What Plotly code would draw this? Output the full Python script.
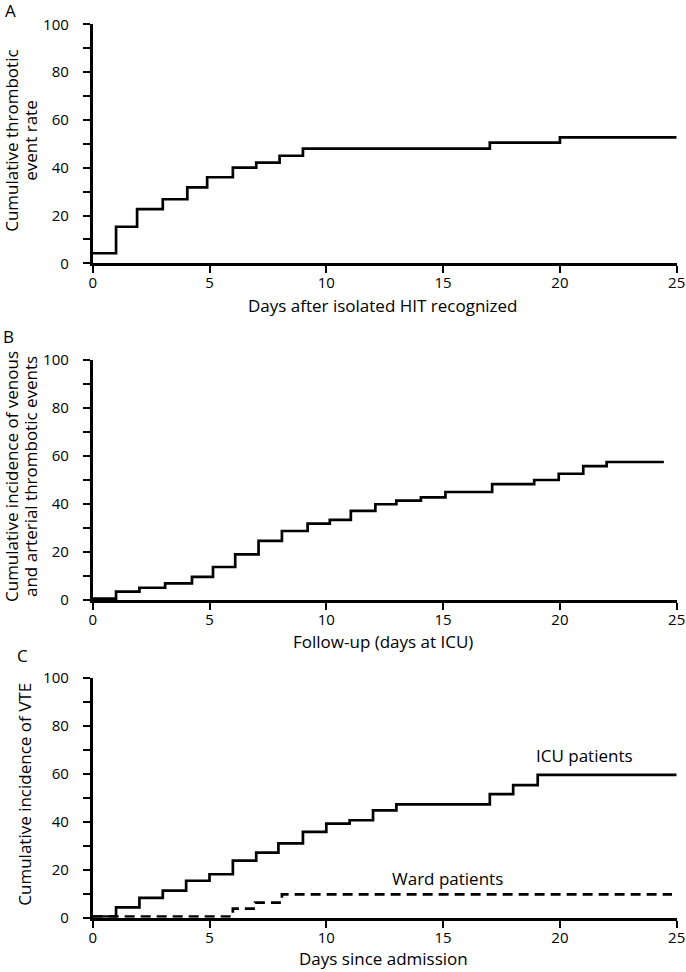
import plotly.graph_objects as go

W, H = 686, 972
FONT = "Open Sans"
TICK_SIZE = 15
TITLE_SIZE = 17

# Panel A
a_days = [0, 1, 1.9, 3, 4.05, 4.9, 6, 7, 8, 9, 17, 20, 25]
a_rate = [4.2, 15.3, 22.7, 26.8, 31.8, 36.0, 40.0, 42.1, 45.0, 48.0, 50.5, 52.7, 52.7]

# Panel B
b_days = [0, 1, 2, 3.1, 4.25, 5.15, 6.1, 7.1, 8.1, 9.2, 10.15, 11.05, 12.1, 13.0, 14.05,
          15.1, 17.1, 18.9, 19.95, 21.0, 22.0, 24.45]
b_rate = [0.6, 3.5, 5.1, 6.9, 9.6, 13.75, 19.0, 24.6, 28.75, 31.8, 33.4, 37.1, 39.9, 41.4,
          42.8, 45.0, 48.3, 50.0, 52.6, 55.8, 57.5, 57.5]

# Panel C
icu_days = [0, 1, 2, 3, 4, 5, 6, 7, 7.95, 9, 10, 11, 12, 13, 17, 18, 19.05, 25]
icu_rate = [0.5, 4.3, 8.3, 11.25, 15.4, 18.1, 23.75, 27.1, 31.0, 35.8, 39.2, 40.6, 44.75,
            47.25, 51.5, 55.2, 59.5, 59.5]
ward_days = [0, 6, 6.95, 8.1, 24.8]
ward_rate = [0.5, 3.75, 6.25, 9.7, 9.7]

x_ticks = [0, 5, 10, 15, 20, 25]
y_ticks = [0, 20, 40, 60, 80, 100]
y_minor = [10, 30, 50, 70, 90]

panels = [
    dict(label="A", top=24.3, bot=263.3, xtitle="Days after isolated HIT recognized",
         xtitle_y=305.5, ytitle=["Cumulative thrombotic", "event rate"], ytitle_x=[12, 31],
         lab_xy=(10, 10)),
    dict(label="B", top=360.0, bot=600.0, xtitle="Follow-up (days at ICU)",
         xtitle_y=641, ytitle=["Cumulative incidence of venous", "and arterial thrombotic events"],
         ytitle_x=[12, 31], lab_xy=(8, 336)),
    dict(label="C", top=677.7, bot=917.7, xtitle="Days since admission",
         xtitle_y=958, ytitle=["Cumulative incidence of VTE"], ytitle_x=[25], lab_xy=(22, 655)),
]

x0px, x1px = 92.7, 676.7


def fx(px):
    return px / W


def fy(py):
    return 1 - py / H


fig = go.Figure()
line_style = dict(color="black", width=2.7)

fig.add_trace(go.Scatter(x=a_days, y=a_rate, mode="lines", line=dict(shape="hv", **line_style),
                         xaxis="x", yaxis="y", showlegend=False, hoverinfo="skip"))
fig.add_trace(go.Scatter(x=b_days, y=b_rate, mode="lines", line=dict(shape="hv", **line_style),
                         xaxis="x2", yaxis="y2", showlegend=False, hoverinfo="skip"))
fig.add_trace(go.Scatter(x=icu_days, y=icu_rate, mode="lines", line=dict(shape="hv", **line_style),
                         xaxis="x3", yaxis="y3", showlegend=False, hoverinfo="skip"))
fig.add_trace(go.Scatter(x=ward_days, y=ward_rate, mode="lines",
                         line=dict(shape="hv", color="black", width=2.7, dash="10px,6px"),
                         xaxis="x3", yaxis="y3", showlegend=False, hoverinfo="skip"))

annotations = []
layout = dict(
    width=W, height=H,
    margin=dict(l=0, r=0, t=0, b=0, pad=0, autoexpand=False),
    paper_bgcolor="white", plot_bgcolor="white",
    font=dict(family=FONT, size=TICK_SIZE, color="black"),
)

for i, p in enumerate(panels):
    sfx = "" if i == 0 else str(i + 1)
    xd = [fx(x0px), fx(x1px)]
    yd = [fy(p["bot"]), fy(p["top"])]
    layout["xaxis" + sfx] = dict(
        domain=xd, range=[0, 25], anchor="y" + sfx, tickvals=x_ticks, automargin=False,
        showline=True, linecolor="black", linewidth=2.7, ticks="outside", ticklen=7,
        tickwidth=2, tickcolor="black", showgrid=False, zeroline=False,
        ticklabelstandoff=-3,
        tickfont=dict(family=FONT, size=TICK_SIZE), fixedrange=True)
    layout["yaxis" + sfx] = dict(
        domain=yd, range=[0, 100], anchor="x" + sfx, tickvals=y_ticks, automargin=False,
        showline=True, linecolor="black", linewidth=2.7, ticks="outside", ticklen=7,
        tickwidth=2, tickcolor="black", showgrid=False, zeroline=False,
        ticklabelstandoff=11,
        tickfont=dict(family=FONT, size=TICK_SIZE), fixedrange=True,
        minor=dict(tickvals=y_minor, ticks="outside", ticklen=7,
                   tickwidth=2, tickcolor="black"))
    annotations.append(dict(xref="paper", yref="paper", x=fx(383),
                            y=fy(p["xtitle_y"]), text=p["xtitle"], showarrow=False,
                            xanchor="center", yanchor="middle",
                            font=dict(family=FONT, size=TITLE_SIZE)))
    for line_text, lx in zip(p["ytitle"], p["ytitle_x"]):
        annotations.append(dict(xref="paper", yref="paper", x=fx(lx),
                                y=fy((p["top"] + p["bot"]) / 2 - 3), text=line_text,
                                showarrow=False, textangle=-90, xanchor="center",
                                yanchor="middle", font=dict(family=FONT, size=TITLE_SIZE)))
    annotations.append(dict(xref="paper", yref="paper", x=fx(p["lab_xy"][0]),
                            y=fy(p["lab_xy"][1]), text=p["label"], showarrow=False,
                            xanchor="center", yanchor="middle", font=dict(family=FONT, size=TITLE_SIZE)))

annotations.append(dict(xref="x3", yref="y3", x=21.05, y=67.4, text="ICU patients",
                        showarrow=False, xanchor="center", yanchor="middle",
                        font=dict(family=FONT, size=TITLE_SIZE)))
annotations.append(dict(xref="x3", yref="y3", x=15.2, y=16.5, text="Ward patients",
                        showarrow=False, xanchor="center", yanchor="middle",
                        font=dict(family=FONT, size=TITLE_SIZE)))

layout["annotations"] = annotations
fig.update_layout(**layout)
# Remove the browser's default 8px body margin so the figure fills the window.
fig.write_html("out.html", config={"displayModeBar": False},
               post_script="document.body.style.margin='0px';document.body.style.overflow='hidden';")
